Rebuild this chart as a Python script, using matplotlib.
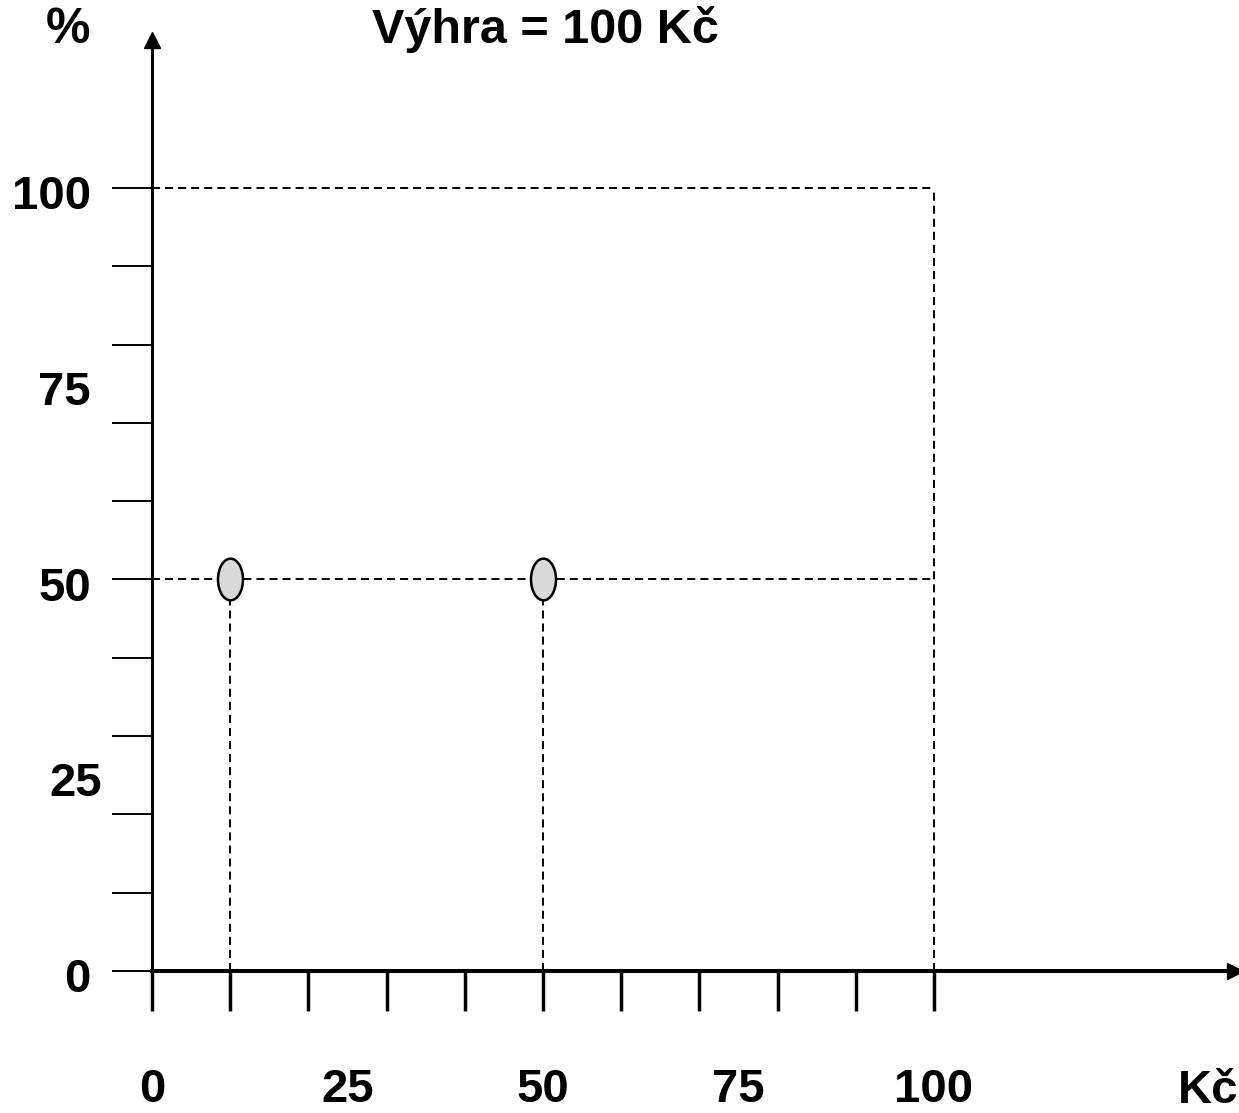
import numpy as np
import matplotlib
matplotlib.use("Agg")
import matplotlib.pyplot as plt
from matplotlib.path import Path
from matplotlib.transforms import Affine2D, ScaledTranslation

plt.rcParams['font.family'] = ['Liberation Sans', 'DejaVu Sans']
plt.rcParams['font.weight'] = 'bold'
plt.rcParams['lines.scale_dashes'] = False

# ---- data ----
title = "Výhra = 100 Kč"
x_label = "Kč"
y_label = "%"
points_x = [10, 50]
points_y = [50, 50]
major_ticks = list(range(0, 101, 10))
label_ticks = [0, 25, 50, 75, 100]
label_texts = ["0", "25", "50", "75", "100"]
# guide lines
h_guides_y = [100, 50]
h_guides_x0 = [0, 0]
h_guides_x1 = [100, 100]
v_guides_x = [100, 10, 50]
v_guides_y0 = [0, 0, 0]
v_guides_y1 = [100, 50, 50]

fig = plt.figure(figsize=(12.39, 11.13), dpi=100)
ax = fig.add_axes([0, 0, 1, 1])
ax.set_xlim(-19.44, 139.0)
ax.set_ylim(-18.14, 124.0)
ax.patch.set_alpha(0)

dash = dict(color='black', linewidth=1.4, linestyle=(0, (5.8, 3.6)), zorder=1)
ax.hlines(h_guides_y, h_guides_x0, h_guides_x1, **dash)
ax.vlines(v_guides_x, v_guides_y0, v_guides_y1, **dash)

ell = Path.unit_circle().transformed(Affine2D().scale(0.6, 1.0))
ax.plot(points_x, points_y, linestyle='none', marker=ell, markersize=30,
        markerfacecolor='#d9d9d9', markeredgecolor='black', markeredgewidth=1.8, zorder=5)

for s in ['top', 'right']:
    ax.spines[s].set_visible(False)
ax.spines['left'].set_position(('data', 0))
ax.spines['bottom'].set_position(('data', 0))
ax.spines['left'].set_bounds(0, 118.5)
ax.spines['bottom'].set_bounds(0, 138)
ax.spines['left'].set_linewidth(2.2)
ax.spines['bottom'].set_linewidth(2.9)

ax.xaxis.remove_overlapping_locs = False
ax.yaxis.remove_overlapping_locs = False

ax.set_yticks(major_ticks)
ax.set_yticklabels([])
ax.set_xticks(major_ticks)
ax.set_xticklabels([])
ax.tick_params(axis='y', which='major', direction='out', length=28.8, width=1.4)
ax.tick_params(axis='x', which='major', direction='out', length=28.8, width=2.5)

ax.set_yticks(label_ticks, minor=True)
ax.set_yticklabels(label_texts, minor=True)
ax.set_xticks(label_ticks, minor=True)
ax.set_xticklabels(label_texts, minor=True)
ax.tick_params(axis='y', which='minor', length=0, pad=44, labelsize=34)
ax.tick_params(axis='x', which='minor', length=0, pad=70, labelsize=34)
for t in ax.get_yticklabels(minor=True) + ax.get_xticklabels(minor=True):
    t.set_fontweight('bold')
# small offsets of y labels as in the reference
for t in ax.get_yticklabels(minor=True):
    dx = 8 / 72 if t.get_text() == "25" else 0
    t.set_transform(t.get_transform() + ScaledTranslation(dx, -3 / 72, fig.dpi_scale_trans))

# arrowheads on axes
ax.plot([0], [118.9], marker='^', markersize=12, color='black', clip_on=False, zorder=6)
ax.plot([138.5], [0], marker='>', markersize=12, color='black', clip_on=False, zorder=6)

ax.text(50.3, 118.5, title, ha='center', va='baseline', fontsize=35, fontweight='bold')
ax.text(-10.7, 118.5, y_label, ha='center', va='baseline', fontsize=36, fontweight='bold')
ax.text(135.1, -16.86, x_label, ha='center', va='baseline', fontsize=34, fontweight='bold')

fig.savefig("out.png", dpi=100)
